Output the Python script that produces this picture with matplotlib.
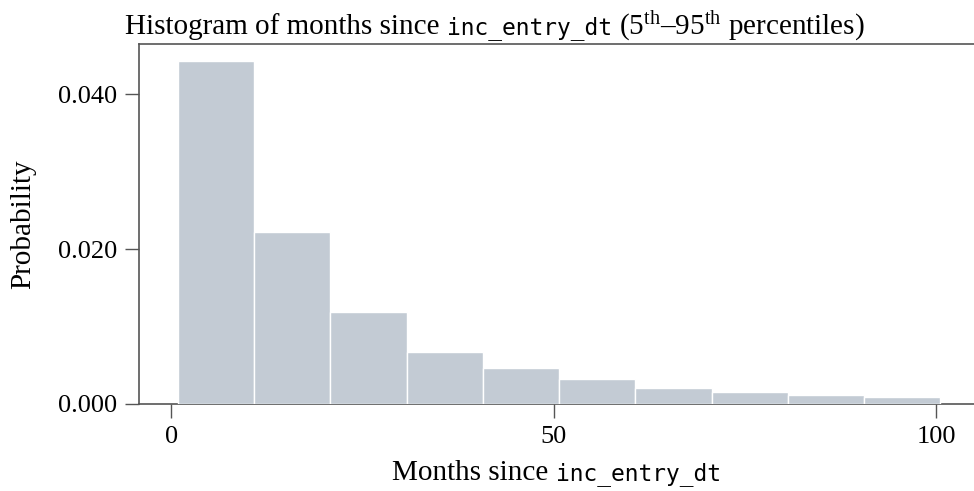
import numpy as np
import matplotlib
matplotlib.use("Agg")
import matplotlib.pyplot as plt
from matplotlib.offsetbox import TextArea, HPacker, AnnotationBbox

plt.rcParams["font.family"] = ["Liberation Serif", "DejaVu Serif"]
plt.rcParams["mathtext.fontset"] = "custom"
plt.rcParams["mathtext.rm"] = "Liberation Serif"
plt.rcParams["mathtext.it"] = "Liberation Serif:italic"

# histogram of months since inc_entry_dt, trimmed to the 5th-95th percentiles
bin_lo, bin_hi = 0.9, 100.5
probability = [0.04425, 0.02224, 0.01189, 0.00676, 0.00461,
               0.00327, 0.00203, 0.00151, 0.00116, 0.00091]
xticks = [0, 50, 100]
yticks = [0.0, 0.02, 0.04]

SERIF = 21
MONO = 16.5


def mixed_label(fig, parts, xy):
    """Place a single line built from (text, is_code) pieces at figure coords."""
    boxes = []
    for text, code in parts:
        if code:
            props = dict(family="DejaVu Sans Mono", size=MONO)
        else:
            props = dict(family="Liberation Serif", size=SERIF)
        boxes.append(TextArea(text, textprops=props))
    row = HPacker(children=boxes, align="baseline", pad=0, sep=0)
    ab = AnnotationBbox(row, xy, xycoords="figure fraction",
                        box_alignment=(0.5, 0.5), frameon=False)
    fig.add_artist(ab)
    return ab


edges = np.linspace(bin_lo, bin_hi, len(probability) + 1)
widths = np.diff(edges)

fig = plt.figure(figsize=(9.74, 4.91), dpi=100)
ax = fig.add_axes([0.1427, 0.1772, 0.8573, 0.7332])

ax.bar(edges[:-1], probability, width=widths, align="edge",
       color="#c3cbd4", edgecolor="white", linewidth=1.0, zorder=3)

ax.set_xlim(-4.2, 104.9)
ax.set_ylim(0, 0.0465)
ax.set_xticks(xticks)
ax.set_yticks(yticks)
ax.set_xticklabels([str(t) for t in xticks])
ax.set_yticklabels([f"{t:.3f}" for t in yticks])

for side in ["left", "top", "bottom"]:
    ax.spines[side].set_color("#555555")
    ax.spines[side].set_linewidth(1.2)
ax.spines["right"].set_visible(False)

ax.tick_params(axis="both", direction="out", length=10, width=1.0,
               color="#555555", labelsize=19, pad=6)
ax.tick_params(top=False, right=False)

ax.set_ylabel("Probability", fontsize=SERIF, labelpad=15)

mixed_label(fig, [("Months since ", False), ("inc_entry_dt", True)],
            (0.5715, 1 - 473 / 491))
mixed_label(fig, [("Histogram of months since ", False),
                  ("inc_entry_dt", True),
                  (r" (5$^{\mathrm{th}}$–95$^{\mathrm{th}}$ percentiles)", False)],
            (0.508, 1 - 26 / 491))

fig.savefig("out.png", dpi=100)
